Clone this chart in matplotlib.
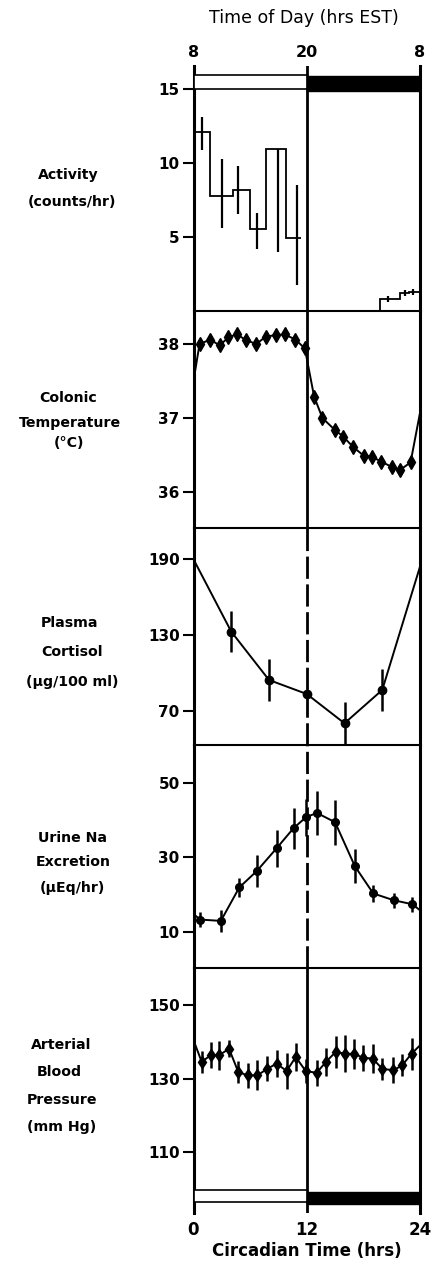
import matplotlib
matplotlib.use("Agg")
import matplotlib.pyplot as plt
from matplotlib.patches import Rectangle

plt.rcParams['font.family'] = ['DejaVu Sans']

# ---------------- data ----------------
# Activity (counts/hr) step histogram
act_day_edges = [0, 1.7, 4.2, 5.95, 7.7, 9.85, 11.4]
act_day_vals = [12.1, 7.77, 8.18, 5.52, 10.93, 4.91]
act_night_edges = [19.75, 21.9, 22.8, 24]
act_night_vals = [0.81, 1.2, 1.3]
act_err_x = [0.87, 2.99, 4.75, 6.7, 8.98, 10.93, 20.6, 22.4, 23.3]
act_err_lo = [10.9, 5.6, 6.55, 4.2, 3.99, 1.76, 0.6, 1.0, 1.1]
act_err_hi = [13.1, 10.27, 9.8, 6.6, 10.93, 8.5, 1.0, 1.4, 1.5]

# Colonic temperature (deg C)
temp_x = [0, 0.64, 1.8, 2.76, 3.7, 4.6, 5.6, 6.66, 7.65, 8.7, 9.66, 10.8, 11.8,
          12.78, 13.66, 14.97, 15.86, 16.9, 18.05, 18.87, 19.9, 21.0, 21.9, 23.0, 24]
temp_y = [37.5, 38.0, 38.06, 37.98, 38.09, 38.13, 38.05, 38.0, 38.1, 38.12, 38.13, 38.06, 37.94,
          37.29, 37.0, 36.84, 36.75, 36.61, 36.49, 36.48, 36.41, 36.34, 36.3, 36.4, 37.07]
temp_err = [0] + [0.06] * 23 + [0]

# Plasma cortisol (ug/100 ml)
cort_x = [0, 4, 8, 12, 16, 20, 24]
cort_y = [190.1, 132.8, 94.5, 83.4, 60.2, 86.6, 184.3]
cort_err = [0, 16, 17, 0, 17, 17, 0]

# Urine Na excretion (uEq/hr)
urine_x = [0, 0.7, 2.9, 4.85, 6.7, 8.8, 10.6, 11.9, 13.07, 15.0, 17.1, 19.05, 21.2, 23.2, 24]
urine_y = [14.8, 13.3, 12.95, 21.9, 26.3, 32.4, 37.8, 40.7, 41.9, 39.4, 27.6, 20.3, 18.5, 17.4, 15.8]
urine_err = [0, 2, 3, 2.5, 4.3, 5, 5.5, 5, 6, 6, 4.5, 2.2, 2, 2, 0]

# Arterial blood pressure (mm Hg)
bp_x = [0, 0.87, 1.82, 2.74, 3.76, 4.75, 5.74, 6.76, 7.82, 8.81, 9.87, 10.83, 11.89,
        13.05, 14.04, 15.07, 16.05, 17.0, 17.99, 18.98, 20.0, 21.17, 22.1, 23.1, 24]
bp_y = [140.5, 134.6, 136.4, 136.4, 138.2, 131.8, 130.9, 130.9, 132.7, 134.1, 132.1, 135.9, 132.1,
        131.6, 134.6, 137.3, 136.8, 136.8, 135.7, 135.5, 132.7, 132.3, 133.6, 136.8, 139.1]
bp_err = [0, 3.0, 3.6, 3.9, 2.3, 3.0, 3.4, 4.1, 3.4, 3.6, 4.8, 3.9, 3.2,
          3.6, 3.9, 4.3, 5.0, 4.1, 3.6, 3.9, 3.0, 3.6, 3.0, 4.3, 0]

ld_edges = [0, 12, 24]
ld_colors = ['white', 'black']
top_ticks = [0, 12, 24]
top_labels = ['8', '20', '8']
bottom_ticks = [0, 12, 24]
bottom_labels = ['0', '12', '24']

act_ticks = [5, 10, 15]
temp_ticks = [36, 37, 38]
cort_ticks = [70, 130, 190]
urine_ticks = [10, 30, 50]
bp_ticks = [110, 130, 150]

# ---------------- layout ----------------
W, H = 433, 1265
fig = plt.figure(figsize=(W / 100, H / 100), dpi=100)
L, R = 193.5, 420.0

def add(top, bottom):
    return fig.add_axes([L / W, 1 - bottom / H, (R - L) / W, (bottom - top) / H])

ax_act = add(66, 311)
ax_temp = add(311, 528)
ax_cort = add(528, 745)
ax_urine = add(745, 968)
ax_bp = add(968, 1213)
axes = [ax_act, ax_temp, ax_cort, ax_urine, ax_bp]

ylims = [(0, 16.55), (35.514, 38.446), (43.0, 214.9), (0.32, 60.1), (93.35, 160.2)]
yticks = [act_ticks, temp_ticks, cort_ticks, urine_ticks, bp_ticks]

for i, (ax, yl, yt) in enumerate(zip(axes, ylims, yticks)):
    ax.set_xlim(0, 24)
    ax.set_ylim(*yl)
    ax.set_yticks(yt)
    ax.set_yticklabels([str(t) for t in yt], fontsize=11, fontweight='bold')
    ax.tick_params(axis='y', direction='out', length=8, width=1.5, pad=2)
    ax.set_xticks([])
    ax.patch.set_alpha(0)
    ax.spines['top'].set_visible(False)
    ax.spines['left'].set_linewidth(2.2)
    ax.spines['right'].set_linewidth(2.2)
    ax.spines['bottom'].set_linewidth(1.5)
    if i == 4:
        ax.spines['bottom'].set_visible(False)
    ls = (0, (8, 2)) if i in (2, 3) else '-'
    ax.axvline(12, color='black', lw=2.0, ls=ls, zorder=1)

# ---- Activity ----
ax_act.stairs(act_day_vals, act_day_edges, baseline=None, color='black', lw=1.3)
ax_act.stairs(act_night_vals, act_night_edges, baseline=0, color='black', lw=1.3)
ax_act.vlines(act_err_x, act_err_lo, act_err_hi, color='black', lw=1.6)
ax_act.add_patch(Rectangle((ld_edges[0], 15.0), ld_edges[1] - ld_edges[0], 0.95,
                           facecolor=ld_colors[0], edgecolor='black', lw=1.2, zorder=3))
ax_act.add_patch(Rectangle((ld_edges[1], 14.85), ld_edges[2] - ld_edges[1], 1.0,
                           facecolor=ld_colors[1], edgecolor='black', lw=1.0, zorder=3))
sec = ax_act.secondary_xaxis('top')
sec.set_xticks(top_ticks)
sec.set_xticklabels(top_labels, fontsize=11.5, fontweight='bold')
sec.tick_params(axis='x', length=0, pad=4)
sec.spines['top'].set_visible(False)

# ---- Temperature ----
ax_temp.plot(temp_x, temp_y, color='black', lw=1.4, marker='d', ms=7,
             markevery=list(range(1, len(temp_x) - 1)))
ax_temp.errorbar(temp_x, temp_y, yerr=temp_err, fmt='none', ecolor='black', elinewidth=1.5)

# ---- Cortisol ----
ax_cort.plot(cort_x, cort_y, color='black', lw=1.4, marker='o', ms=6,
             markevery=list(range(1, len(cort_x) - 1)))
ax_cort.errorbar(cort_x, cort_y, yerr=cort_err, fmt='none', ecolor='black', elinewidth=1.8)

# ---- Urine Na ----
ax_urine.plot(urine_x, urine_y, color='black', lw=1.4, marker='o', ms=5.5,
              markevery=list(range(1, len(urine_x) - 1)))
ax_urine.errorbar(urine_x, urine_y, yerr=urine_err, fmt='none', ecolor='black', elinewidth=1.8)

# ---- Blood pressure ----
ax_bp.plot(bp_x, bp_y, color='black', lw=1.4, marker='d', ms=6.5,
           markevery=list(range(1, len(bp_x) - 1)))
ax_bp.errorbar(bp_x, bp_y, yerr=bp_err, fmt='none', ecolor='black', elinewidth=1.8)
ax_bp.add_patch(Rectangle((ld_edges[0], 96.4), ld_edges[1] - ld_edges[0], 3.2,
                          facecolor=ld_colors[0], edgecolor='black', lw=1.2, zorder=3))
ax_bp.add_patch(Rectangle((ld_edges[1], 95.8), ld_edges[2] - ld_edges[1], 3.4,
                          facecolor=ld_colors[1], edgecolor='black', lw=1.0, zorder=3))
ax_bp.set_xticks(bottom_ticks)
ax_bp.set_xticklabels(bottom_labels, fontsize=12, fontweight='bold')
ax_bp.tick_params(axis='x', length=0, pad=6)
ax_bp.set_xlabel('Circadian Time (hrs)', fontsize=12, fontweight='bold', labelpad=2)

# ---- titles / panel labels ----
fig.text(304 / W, 1 - 18 / H, 'Time of Day (hrs EST)', ha='center', va='center', fontsize=12.5)

labels = [
    ('Activity', 68, 175), ('(counts/hr)', 72, 202),
    ('Colonic', 68, 398), ('Temperature', 70, 423), ('(°C)', 69, 443),
    ('Plasma', 70, 623), ('Cortisol', 72, 652), ('(µg/100 ml)', 72, 682),
    ('Urine Na', 73, 838), ('Excretion', 73, 862), ('(µEq/hr)', 72, 888),
    ('Arterial', 61, 1045), ('Blood', 59, 1072), ('Pressure', 62, 1100), ('(mm Hg)', 62, 1127),
]
for txt, xp, yp in labels:
    fig.text(xp / W, 1 - yp / H, txt, ha='center', va='center', fontsize=10.2, fontweight='bold')

fig.savefig('out.png', dpi=100, facecolor='white')
